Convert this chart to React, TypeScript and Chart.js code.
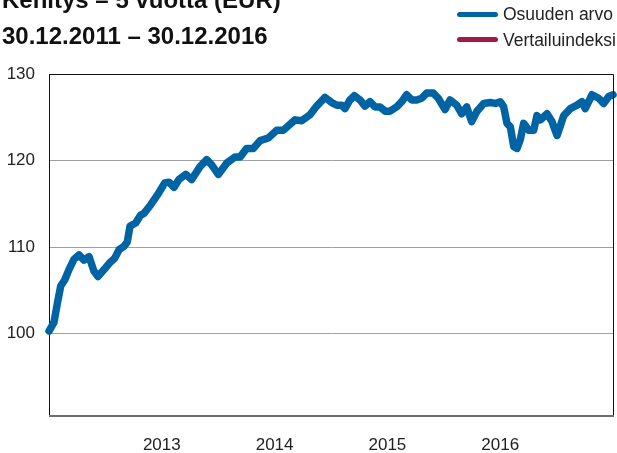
import React, { useEffect, useRef } from "react";
import { Chart, registerables } from "chart.js";

Chart.register(...registerables);

const titleLines = ["Kehitys – 5 vuotta (EUR)", "30.12.2011 – 30.12.2016"];
const seriesNames = ["Osuuden arvo", "Vertailuindeksi"];
const seriesColors = ["rgb(0,100,164)", "rgb(166,24,74)"];

const yTicks = [100, 110, 120, 130];
const xTicks = [2013, 2014, 2015, 2016];

// time as decimal years (30.12.2011 ≈ 2012.0, 30.12.2016 ≈ 2017.0)
const dates = [
  2012.0, 2012.044, 2012.074, 2012.104, 2012.139, 2012.177, 2012.222, 2012.266, 2012.31, 2012.355,
  2012.399, 2012.434, 2012.488, 2012.532, 2012.582, 2012.621, 2012.665, 2012.694, 2012.718, 2012.769,
  2012.813, 2012.842, 2012.902, 2012.96, 2013.026, 2013.064, 2013.108, 2013.152, 2013.212, 2013.265,
  2013.339, 2013.398, 2013.442, 2013.501, 2013.575, 2013.649, 2013.693, 2013.753, 2013.811, 2013.871,
  2013.944, 2014.019, 2014.077, 2014.181, 2014.24, 2014.314, 2014.373, 2014.447, 2014.506, 2014.551,
  2014.595, 2014.624, 2014.668, 2014.707, 2014.757, 2014.801, 2014.846, 2014.89, 2014.934, 2014.979,
  2015.023, 2015.082, 2015.127, 2015.171, 2015.215, 2015.26, 2015.304, 2015.348, 2015.407, 2015.451,
  2015.511, 2015.555, 2015.614, 2015.659, 2015.703, 2015.747, 2015.794, 2015.854, 2015.912, 2015.957,
  2016.001, 2016.031, 2016.06, 2016.09, 2016.12, 2016.149, 2016.178, 2016.208, 2016.253, 2016.297,
  2016.326, 2016.356, 2016.415, 2016.459, 2016.504, 2016.533, 2016.563, 2016.622, 2016.681, 2016.725,
  2016.754, 2016.814, 2016.873, 2016.917, 2016.962, 2017.0,
];

const fundValues = [
  100.3, 101.3, 103.5, 105.5, 106.2, 107.4, 108.6, 109.1, 108.5, 108.9,
  107.2, 106.6, 107.4, 108.1, 108.7, 109.7, 110.1, 110.6, 112.4, 112.8,
  113.7, 113.9, 114.9, 116.0, 117.4, 117.5, 116.9, 117.8, 118.4, 117.8,
  119.3, 120.1, 119.5, 118.4, 119.7, 120.4, 120.4, 121.4, 121.4, 122.3,
  122.6, 123.5, 123.5, 124.7, 124.6, 125.3, 126.3, 127.3, 126.7, 126.4,
  126.4, 126.0, 127.0, 127.5, 127.0, 126.3, 126.8, 126.2, 126.2, 125.7,
  125.7, 126.2, 126.8, 127.6, 127.0, 127.0, 127.2, 127.8, 127.8, 127.2,
  125.9, 127.0, 126.4, 125.4, 126.2, 124.5, 125.7, 126.6, 126.7, 126.6,
  126.8, 126.2, 124.3, 123.9, 121.6, 121.4, 122.4, 124.3, 123.5, 123.5,
  125.2, 124.7, 125.4, 124.5, 122.9, 124.0, 125.2, 126.0, 126.4, 126.8,
  126.0, 127.6, 127.2, 126.6, 127.4, 127.6,
];

const benchmarkValues: number[] = [];

const FONT = '"Liberation Sans", Arial, Helvetica, sans-serif';

export default function App() {
  const canvasRef = useRef<HTMLCanvasElement | null>(null);

  useEffect(() => {
    const canvas = canvasRef.current;
    if (!canvas) return;

    const framePlugin = {
      id: "frame",
      afterDraw(chart: any) {
        const { ctx, chartArea } = chart;
        ctx.save();
        ctx.strokeStyle = "#111";
        ctx.lineWidth = 1;
        ctx.beginPath();
        ctx.moveTo(chartArea.left, chartArea.top + 0.5);
        ctx.lineTo(chartArea.right + 0.5, chartArea.top + 0.5);
        ctx.lineTo(chartArea.right + 0.5, chartArea.bottom);
        ctx.stroke();
        ctx.strokeStyle = "#6e6e6e";
        ctx.lineWidth = 2;
        ctx.beginPath();
        ctx.moveTo(chartArea.left, chartArea.bottom + 1);
        ctx.lineTo(chartArea.right + 1, chartArea.bottom + 1);
        ctx.stroke();
        ctx.restore();
      },
    };

    const chart = new Chart(canvas, {
      type: "line",
      data: {
        datasets: [
          {
            label: seriesNames[0],
            data: dates.map((d, i) => ({ x: d, y: fundValues[i] })),
            borderColor: seriesColors[0],
            backgroundColor: seriesColors[0],
            borderWidth: 7.5,
            pointRadius: 0,
            tension: 0,
            borderCapStyle: "round",
            borderJoinStyle: "round",
            clip: 8,
          },
          {
            label: seriesNames[1],
            data: benchmarkValues.map((v, i) => ({ x: dates[i], y: v })),
            borderColor: seriesColors[1],
            borderWidth: 4,
            pointRadius: 0,
          },
        ],
      },
      options: {
        responsive: false,
        animation: false,
        devicePixelRatio: 1,
        layout: { padding: { top: 74, right: 4, left: 0, bottom: 0 } },
        plugins: {
          legend: { display: false },
          title: { display: false },
          tooltip: { enabled: false },
        },
        scales: {
          x: {
            type: "linear",
            min: 2012,
            max: 2017,
            afterBuildTicks: (scale: any) => {
              scale.ticks = xTicks.map((v) => ({ value: v }));
            },
            afterFit: (scale: any) => {
              scale.height = 38;
            },
            grid: { display: false, drawTicks: false },
            border: { display: false },
            ticks: {
              padding: 20,
              maxRotation: 0,
              autoSkip: false,
              color: "#222",
              font: { family: FONT, size: 17 },
              callback: (v: any) => String(v),
            },
          },
          y: {
            type: "linear",
            min: 90.6,
            max: 130,
            afterBuildTicks: (scale: any) => {
              scale.ticks = yTicks.map((v) => ({ value: v }));
            },
            afterFit: (scale: any) => {
              scale.width = 49;
            },
            grid: { color: "#a0a0a0", lineWidth: 1, drawTicks: false },
            border: { display: true, color: "#111", width: 1 },
            ticks: {
              padding: 14,
              color: "#222",
              font: { family: FONT, size: 17 },
              callback: (v: any) => String(v),
            },
          },
        },
      },
      plugins: [framePlugin],
    } as any);

    return () => chart.destroy();
  }, []);

  const titleStyle: React.CSSProperties = {
    position: "absolute",
    left: 2,
    fontFamily: FONT,
    fontWeight: "bold",
    fontSize: 24,
    lineHeight: "24px",
    color: "#111",
    whiteSpace: "nowrap",
    margin: 0,
  };

  const legendTextStyle: React.CSSProperties = {
    position: "absolute",
    left: 503,
    fontFamily: FONT,
    fontSize: 17.5,
    lineHeight: "18px",
    color: "#222",
    whiteSpace: "nowrap",
  };

  const legendLine = (top: number, color: string): React.CSSProperties => ({
    position: "absolute",
    left: 457,
    top,
    width: 41,
    height: 5,
    borderRadius: 2.5,
    background: color,
  });

  return (
    <div
      style={{
        position: "absolute",
        left: 0,
        top: 0,
        width: 617,
        height: 453,
        overflow: "hidden",
        background: "#fff",
      }}
    >
      <canvas
        ref={canvasRef}
        width={617}
        height={453}
        style={{ position: "absolute", left: 0, top: 0, width: 617, height: 453, display: "block" }}
      />
      <div style={{ ...titleStyle, top: -12 }}>{titleLines[0]}</div>
      <div style={{ ...titleStyle, top: 24 }}>{titleLines[1]}</div>
      <div style={legendLine(12, seriesColors[0])} />
      <div style={{ ...legendTextStyle, top: 5 }}>{seriesNames[0]}</div>
      <div style={legendLine(37, seriesColors[1])} />
      <div style={{ ...legendTextStyle, top: 31 }}>{seriesNames[1]}</div>
    </div>
  );
}
